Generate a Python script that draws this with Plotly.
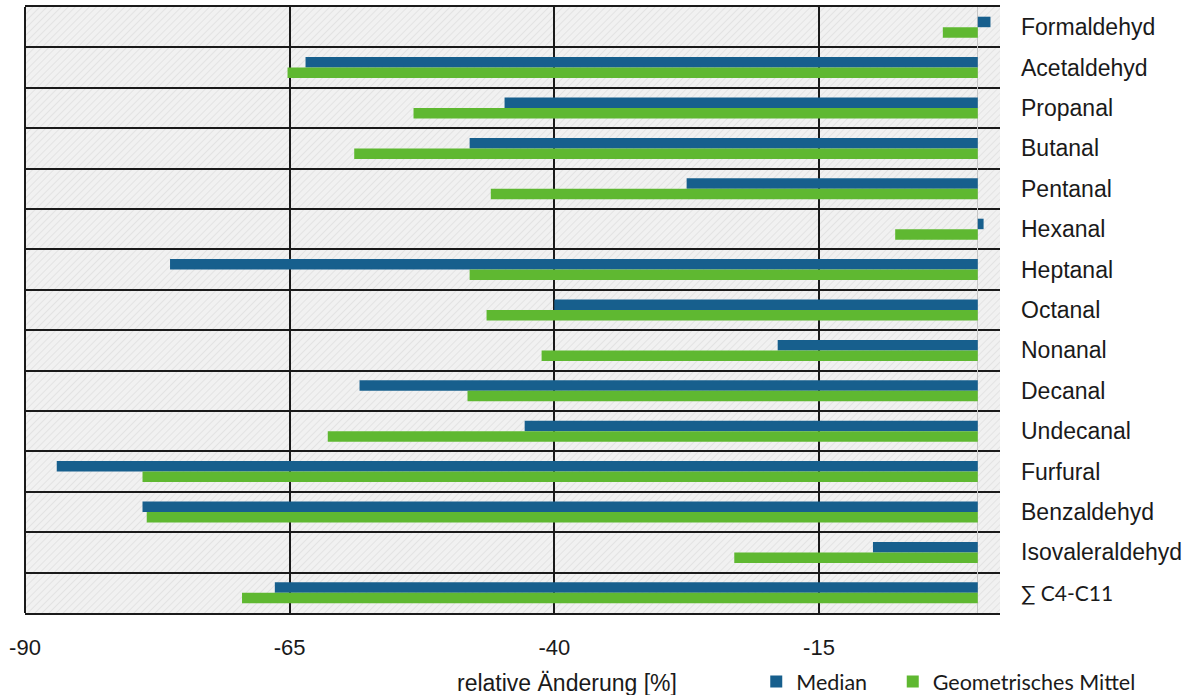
import base64
import plotly.graph_objects as go

# Relative change [%] of aldehyde concentrations
categories = [
    "Formaldehyd", "Acetaldehyd", "Propanal", "Butanal", "Pentanal",
    "Hexanal", "Heptanal", "Octanal", "Nonanal", "Decanal",
    "Undecanal", "Furfural", "Benzaldehyd", "Isovaleraldehyd", "∑ C4-C11",
]
median = [1.2, -63.5, -44.7, -48.0, -27.5, 0.55, -76.3, -40.0, -18.9, -58.4,
          -42.8, -87.0, -78.9, -9.9, -66.4]
geo_mean = [-3.3, -65.2, -53.3, -58.9, -46.0, -7.8, -48.0, -46.4, -41.2, -48.2,
            -61.4, -78.9, -78.5, -23.0, -69.5]

x_ticks = [-90, -65, -40, -15]
x_range = [-90, 2.1]

BLUE = "#175f8d"
GREEN = "#5fb831"
TEXT = "#1a1a1a"
SANS = "Liberation Sans, Arial, sans-serif"
HUMANIST = "Lato, Open Sans, sans-serif"

# tick labels: the sum label uses the humanist face
tick_text = [
    f'<span style="font-family:{HUMANIST};font-size:21px">{c}</span>'
    if c.startswith("∑") else c
    for c in categories
]

# light diagonal hatch used as the plot-area background
W, H = 975, 606
hatch_svg = f"""<svg xmlns='http://www.w3.org/2000/svg' width='{W}' height='{H}'>
<defs><pattern id='h' width='5' height='5' patternUnits='userSpaceOnUse' patternTransform='rotate(45)'>
<rect width='5' height='5' fill='#f1f1f1'/>
<line x1='0' y1='0' x2='0' y2='5' stroke='#dadada' stroke-width='1.2'/>
</pattern></defs>
<rect width='100%' height='100%' fill='url(#h)'/></svg>"""
hatch_uri = "data:image/svg+xml;base64," + base64.b64encode(hatch_svg.encode()).decode()

fig = go.Figure()
fig.add_trace(go.Bar(y=categories, x=median, orientation="h", name="Median",
                     legend="legend",
                     marker=dict(color=BLUE, line=dict(width=0))))
fig.add_trace(go.Bar(y=categories, x=geo_mean, orientation="h",
                     name="Geometrisches Mittel", legend="legend2",
                     marker=dict(color=GREEN, line=dict(width=0))))

legend_style = dict(orientation="h", xanchor="left", y=-0.113, yanchor="middle",
                    font=dict(family=HUMANIST, size=21.5, color=TEXT),
                    bgcolor="rgba(0,0,0,0)")

fig.update_layout(
    width=1190, height=695,
    margin=dict(l=25, r=190, t=7, b=82, autoexpand=False),
    paper_bgcolor="white",
    plot_bgcolor="rgba(0,0,0,0)",
    barmode="group", bargap=0.48, bargroupgap=0,
    showlegend=True,
    legend=dict(x=0.750, **legend_style),
    legend2=dict(x=0.890, **legend_style),
    images=[dict(source=hatch_uri, xref="x domain", yref="y domain",
                 x=0, y=1, sizex=1, sizey=1, xanchor="left", yanchor="top",
                 sizing="stretch", layer="below")],
    annotations=[dict(text="relative Änderung [%]", xref="paper", yref="paper",
                      x=0.556, y=-0.1155, xanchor="center", yanchor="middle",
                      showarrow=False, font=dict(family=SANS, size=23, color=TEXT))],
    shapes=[dict(type="line", xref="x domain", yref="y domain",
                 x0=0, x1=0, y0=0, y1=1, line=dict(color=TEXT, width=2))],
)

fig.update_xaxes(
    range=x_range, tickvals=x_ticks, ticktext=[str(v) for v in x_ticks],
    showgrid=True, gridcolor=TEXT, gridwidth=1.5,
    zeroline=True, zerolinecolor="#c6c6c6", zerolinewidth=1,
    showline=True, mirror=True, linecolor=TEXT, linewidth=2,
    ticks="", ticklabelstandoff=14,
    tickfont=dict(family=SANS, size=22, color=TEXT),
)
fig.update_yaxes(
    type="category", categoryorder="array", categoryarray=categories,
    tickvals=categories, ticktext=tick_text,
    autorange="reversed", side="right",
    tickson="boundaries", showgrid=True, gridcolor=TEXT, gridwidth=1.5,
    showline=False, zeroline=False, ticks="", ticklabelstandoff=20,
    tickfont=dict(family=SANS, size=23, color=TEXT),
)

fig.write_html("out.html")
